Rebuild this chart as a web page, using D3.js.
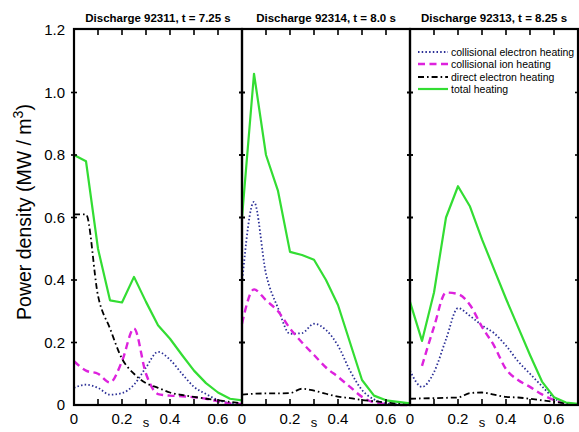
<!DOCTYPE html>
<html>
<head>
<meta charset="utf-8">
<script src="https://cdn.jsdelivr.net/npm/d3@7"></script>
<style>
  html, body { margin: 0; padding: 0; background: #fff; }
  svg { display: block; font-family: "Liberation Sans", Arial, sans-serif; }
</style>
</head>
<body>
<div id="chart"></div>
<script>
// Radial grid (s) shared by all profiles
const sGrid = [0, 0.05, 0.1, 0.15, 0.2, 0.25, 0.3, 0.35, 0.4, 0.45, 0.5, 0.55, 0.6, 0.65, 0.7];

const titles = ['Discharge 92311, t = 7.25 s', 'Discharge 92314, t = 8.0 s', 'Discharge 92313, t = 8.25 s'];
const seriesNames = ['collisional electron heating', 'collisional ion heating', 'direct electron heating', 'total heating'];

// Discharge 92311
const elec1   = [0.055, 0.065, 0.055, 0.033, 0.038, 0.065, 0.12, 0.17, 0.145, 0.10, 0.058, 0.035, 0.016, 0.006, 0.002];
const ion1    = [0.14, 0.11, 0.10, 0.072, 0.14, 0.245, 0.10, 0.035, 0.03, 0.028, 0.025, 0.02, 0.012, 0.005, 0.003];
const direct1 = [0.61, 0.61, 0.35, 0.245, 0.148, 0.10, 0.07, 0.055, 0.04, 0.032, 0.026, 0.02, 0.015, 0.01, 0.005];
const total1  = [0.80, 0.78, 0.50, 0.335, 0.328, 0.41, 0.33, 0.255, 0.212, 0.16, 0.11, 0.07, 0.04, 0.02, 0.015];

// Discharge 92314
const elec2   = [0.39, 0.65, 0.42, 0.31, 0.228, 0.23, 0.26, 0.24, 0.19, 0.11, 0.048, 0.018, 0.005, 0.002, 0];
const ion2    = [0.26, 0.37, 0.335, 0.30, 0.245, 0.20, 0.16, 0.12, 0.09, 0.058, 0.026, 0.008, 0.003, 0, 0];
const direct2 = [0.033, 0.036, 0.037, 0.037, 0.038, 0.052, 0.046, 0.036, 0.027, 0.022, 0.016, 0.012, 0.008, 0.004, 0.002];
const total2  = [0.60, 1.06, 0.80, 0.685, 0.49, 0.48, 0.465, 0.40, 0.32, 0.20, 0.08, 0.03, 0.015, 0.01, 0.005];

// Discharge 92313 (ion heating starts at s = 0.05)
const elec3   = [0.11, 0.058, 0.105, 0.21, 0.31, 0.285, 0.255, 0.23, 0.19, 0.14, 0.10, 0.06, 0.022, 0.005, 0];
const ion3    = [null, 0.125, 0.25, 0.36, 0.355, 0.32, 0.25, 0.19, 0.115, 0.08, 0.058, 0.034, 0.016, 0.005, 0.002];
const direct3 = [0.02, 0.021, 0.022, 0.023, 0.024, 0.038, 0.04, 0.033, 0.026, 0.024, 0.02, 0.015, 0.01, 0.005, 0.003];
const total3  = [0.33, 0.205, 0.36, 0.60, 0.70, 0.635, 0.53, 0.435, 0.34, 0.25, 0.16, 0.075, 0.025, 0.008, 0.004];

const xTicks = [0, 0.2, 0.4, 0.6];
const yTicks = [0, 0.2, 0.4, 0.6, 0.8, 1.0, 1.2];

const panels = [
  [elec1, ion1, direct1, total1],
  [elec2, ion2, direct2, total2],
  [elec3, ion3, direct3, total3]
];

// line styles per series
const styles = [
  { color: '#2b2f96', width: 1.8, dash: '1.5,2.2', curve: d3.curveMonotoneX },
  { color: '#dd22dd', width: 2.4, dash: '7,4.5', curve: d3.curveMonotoneX },
  { color: '#000000', width: 1.8, dash: '6,3,1.6,3', curve: d3.curveMonotoneX },
  { color: '#33dd33', width: 2.2, dash: null, curve: d3.curveLinear }
];

const width = 579, height = 432;
const plotTop = 29, plotBottom = 405, panelW = 168, left0 = 74;

const svg = d3.select('#chart').append('svg')
  .attr('width', width)
  .attr('height', height);

const y = d3.scaleLinear().domain([0, 1.2]).range([plotBottom, plotTop + 1]);

panels.forEach((series, p) => {
  const x0 = left0 + p * panelW;
  const x = d3.scaleLinear().domain([0, 0.7]).range([x0, x0 + panelW]);
  const g = svg.append('g');

  // curves
  series.forEach((vals, i) => {
    const st = styles[i];
    const line = d3.line()
      .defined(d => d[1] !== null)
      .x(d => x(d[0]))
      .y(d => y(d[1]))
      .curve(st.curve);
    g.append('path')
      .datum(sGrid.map((s, k) => [s, vals[k]]))
      .attr('d', line)
      .attr('fill', 'none')
      .attr('stroke', st.color)
      .attr('stroke-width', st.width)
      .attr('stroke-dasharray', st.dash)
      .attr('stroke-linejoin', 'round');
  });

  // frame
  g.append('rect')
    .attr('x', x0).attr('y', plotTop)
    .attr('width', panelW).attr('height', plotBottom - plotTop)
    .attr('fill', 'none')
    .attr('stroke', '#000')
    .attr('stroke-width', 2.2);

  // x ticks, top and bottom, pointing inward
  const xt = d3.range(1, 7).map(d => d / 10);
  g.selectAll(null).data(xt).join('line')
    .attr('x1', d => x(d)).attr('x2', d => x(d))
    .attr('y1', plotBottom).attr('y2', plotBottom - 6)
    .attr('stroke', '#000').attr('stroke-width', 1.6);
  g.selectAll(null).data(xt).join('line')
    .attr('x1', d => x(d)).attr('x2', d => x(d))
    .attr('y1', plotTop).attr('y2', plotTop + 6)
    .attr('stroke', '#000').attr('stroke-width', 1.6);

  // y ticks on both sides (small crosses)
  const ytk = [0.2, 0.4, 0.6, 0.8, 1.0];
  [x0, x0 + panelW].forEach(xx => {
    g.selectAll(null).data(ytk).join('line')
      .attr('x1', xx - 3).attr('x2', xx + 3)
      .attr('y1', d => y(d)).attr('y2', d => y(d))
      .attr('stroke', '#000').attr('stroke-width', 1.6);
  });

  // x tick labels
  g.selectAll(null).data(xTicks).join('text')
    .attr('x', d => x(d))
    .attr('y', 424)
    .attr('text-anchor', 'middle')
    .attr('font-size', 15)
    .text(d => d === 0 ? '0' : d3.format('.1f')(d));

  // axis label s
  g.append('text')
    .attr('x', x(0.3))
    .attr('y', 427)
    .attr('text-anchor', 'middle')
    .attr('font-size', 13)
    .text('s');

  // title
  g.append('text')
    .attr('x', x0 + panelW / 2)
    .attr('y', 22)
    .attr('text-anchor', 'middle')
    .attr('font-size', 11.5)
    .attr('font-weight', 'bold')
    .text(titles[p]);
});

// y tick labels
svg.selectAll(null).data(yTicks).join('text')
  .attr('x', 65)
  .attr('y', d => y(d) + 5)
  .attr('text-anchor', 'end')
  .attr('font-size', 15)
  .text(d => d === 0 ? '0' : d3.format('.1f')(d));

// y axis title
const yTitle = svg.append('text')
  .attr('transform', 'translate(31,212) rotate(-90)')
  .attr('text-anchor', 'middle')
  .attr('font-size', 19.5);
yTitle.append('tspan').text('Power density (MW / m');
yTitle.append('tspan').attr('dy', -8).attr('font-size', 14).text('3');
yTitle.append('tspan').attr('dy', 8).text(')');

// legend in third panel
const leg = svg.append('g');
const legX = 418, legY = [52, 64, 77, 89];
seriesNames.forEach((name, i) => {
  const st = styles[i];
  leg.append('line')
    .attr('x1', legX).attr('x2', legX + 30)
    .attr('y1', legY[i]).attr('y2', legY[i])
    .attr('stroke', st.color)
    .attr('stroke-width', st.width)
    .attr('stroke-dasharray', st.dash);
  leg.append('text')
    .attr('x', legX + 33)
    .attr('y', legY[i] + 3.5)
    .attr('font-size', 10.5)
    .text(name);
});
</script>
</body>
</html>
